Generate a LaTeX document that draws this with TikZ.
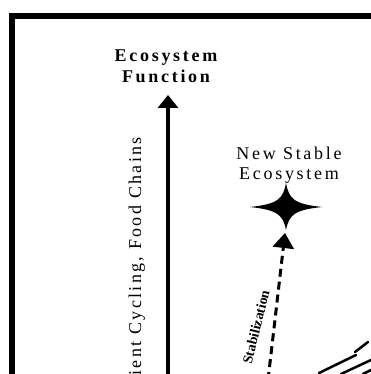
\documentclass[tikz,border=0pt]{standalone}
\usepackage{fontspec}
\setmainfont{Liberation Serif}
\newfontfamily\spacedfont[LetterSpace=15]{Liberation Serif}
\newfontfamily\axisfont[LetterSpace=13]{Liberation Serif}
\usetikzlibrary{arrows.meta,positioning,calc}

\begin{document}
\begin{tikzpicture}[x=1pt, y=-1pt,
    every node/.style={inner sep=0pt, font=\spacedfont},
    axisarrow/.style={line width=4pt, -{Triangle[length=13pt,width=20pt]}},
    stabarrow/.style={line width=3pt, dash pattern=on 8pt off 5pt,
      -{Triangle[length=15pt,width=21pt]}},
    sketchline/.style={line width=2.5pt, line cap=round}]
  % page size and cropping
  \useasboundingbox (0,0) rectangle (371,374);
  \clip (0,0) rectangle (371,374);
  % outer frame (only its top left corner shows)
  \draw[line width=6pt] (12,400) -- (12,16) -- (400,16);
  % vertical axis: ecosystem function
  \coordinate (axisfoot) at (168,390);
  \coordinate (axistip) at (168,95);
  \draw[axisarrow] (axisfoot) -- (axistip);
  \node[align=center, font=\spacedfont\bfseries\fontsize{18}{21}\selectfont]
    (func) at (166,66) {Ecosystem\\Function};
  \node[rotate=90, anchor=base east, font=\axisfont\fontsize{18}{20}\selectfont]
    (axislabel) at (141,137) {Nutrient Cycling, Food Chains};
  % new stable state, marked by a four point star
  \coordinate (star) at (286,207);
  \fill[shift={(star)}] (-36,0) .. controls (-8,-3) and (-3,-8) .. (0,-24)
    .. controls (3,-8) and (8,-3) .. (36,0)
    .. controls (8,3) and (3,8) .. (0,23)
    .. controls (-3,8) and (-8,3) .. (-36,0) -- cycle;
  \node[align=center, font=\spacedfont\fontsize{18}{20}\selectfont]
    (stable) at (289,165) {New Stable\\Ecosystem};
  % stabilization path up to the star
  \coordinate (stabfoot) at (268,380);
  \coordinate (stabtip) at (285,233);
  \draw[stabarrow] (stabfoot) -- (stabtip);
  \node[rotate=76, font=\bfseries\fontsize{14}{14}\selectfont]
    (stablabel) at (256,327) {Stabilization};
  % lines coming in from the lower right
  \draw[sketchline] (319,373) -- (356,355);
  \draw[sketchline] (355,352) -- (368,342);
  \draw[sketchline] (341,374) -- (371,360);
  \draw[sketchline] (363,374) -- (371,370);
\end{tikzpicture}
\end{document}
